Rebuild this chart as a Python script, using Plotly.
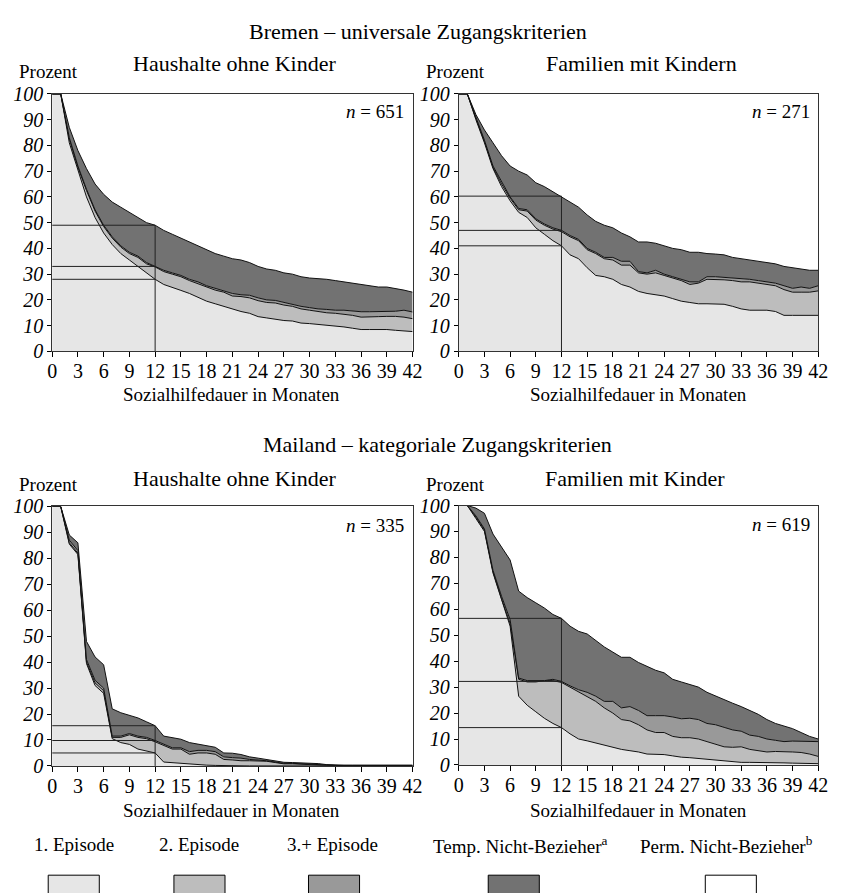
import plotly.graph_objects as go

months = list(range(43))
x_ticks = list(range(0, 43, 3))
y_ticks = list(range(0, 101, 10))

# ---------------- Bremen – Haushalte ohne Kinder (n = 651)
bre_ohne_ep1 = [100, 100, 81, 70, 60, 52, 46, 41.5, 38, 35.5, 33, 30.5, 28, 26, 25, 23.7, 22.5, 21, 19.5, 18.5, 17.5,
                16.2, 15.5, 14.8, 13.5, 13, 12.5, 12, 11.8, 11, 10.8, 10.5, 10.3, 10, 9.5, 9, 8.5, 8.5, 8.5, 8.5, 8.2, 8, 7.7]
bre_ohne_ep2 = [100, 100, 82.5, 71.5, 62.5, 54.5, 48.5, 44, 40.5, 38, 36.5, 34, 32.8, 31, 30, 29, 27.5, 26.2, 25, 23.8,
                23, 21.5, 21.3, 20.8, 19.7, 19, 18.8, 18, 17.5, 16.5, 16, 15.5, 15, 14.8, 14.5, 14, 13.3, 13.5, 13.5, 13.6,
                13.6, 13.3, 12.7]
bre_ohne_ep3 = [100, 100, 83, 72, 63, 55, 49, 44.5, 41, 38.5, 37, 34.5, 33, 31.5, 30.5, 29.5, 28, 27, 25.5, 24.5, 23.5,
                22.5, 22, 21.8, 20.8, 20, 19.8, 19, 18.5, 17.5, 17, 16.5, 16.3, 16, 16, 15.7, 15.4, 15.4, 15.4, 15.6, 15.6,
                16, 15.3]
bre_ohne_temp = [100, 100, 87, 78, 71, 65, 61, 58, 56, 54, 52, 50, 49, 47, 45.5, 44, 42.5, 41, 39.5, 38, 37, 36, 35.5,
                 34.5, 33, 32, 31.5, 30.5, 30, 29, 28.5, 28.3, 28, 27.5, 27, 26.5, 26, 25.5, 25, 25, 24.5, 23.8, 23]

# ---------------- Bremen – Familien mit Kindern (n = 271)
bre_mit_ep1 = [100, 100, 90, 81, 71, 64, 58.5, 54, 52, 48, 45.5, 43, 41, 37.5, 36, 32.5, 29.5, 29, 28, 26, 25, 23.3,
               22.5, 22, 21.5, 20.5, 19.5, 19, 18.5, 18.5, 18.5, 18.3, 17.5, 16.5, 16, 16, 16, 15.5, 14, 14, 14, 14, 14]
bre_mit_ep2 = [100, 100, 90.5, 81.5, 71.5, 65, 59.5, 55, 54.5, 51, 49, 47.5, 46.5, 44.5, 43, 39.5, 38, 36, 35.5, 33.5,
               33.5, 30.5, 30, 30.5, 29.5, 28.5, 27.5, 26, 26.5, 28, 28, 27.8, 27.5, 27, 27, 26.5, 26, 25.5, 24, 23, 23,
               23, 23.5]
bre_mit_ep3 = [100, 100, 91, 82, 72, 66, 60, 55.5, 55, 51.5, 49.5, 48, 47, 45, 43.5, 40, 38.5, 36.5, 36.5, 35, 35, 31,
               30.5, 31.5, 30, 29, 28, 27, 27, 29, 29, 28.8, 28.5, 28.2, 28, 27.5, 27, 26.5, 25.5, 24.5, 25, 24.5, 25.5]
bre_mit_temp = [100, 100, 92, 86, 81, 76, 72, 70, 68.5, 65.5, 64, 62, 60.3, 58, 56, 53, 50.5, 49, 48, 46, 44.5, 42.5,
                42.5, 42, 41, 40, 39.5, 38.5, 38.5, 38, 37.8, 37.5, 36.5, 36, 35.5, 35, 34.5, 34, 33, 32.5, 32, 31.5, 31.5]

# ---------------- Mailand – Haushalte ohne Kinder (n = 335)
mai_ohne_ep1 = [100, 100, 85.5, 81.5, 39.5, 31, 28, 10.5, 9, 8.3, 6.5, 5.8, 5, 1.5, 1.2, 1, 0.8, 0.5, 0.3, 0.2, 0.1, 0,
                0, 0, 0, 0, 0, 0, 0, 0, 0, 0, 0, 0, 0, 0, 0, 0, 0, 0, 0, 0, 0]
mai_ohne_ep2 = [100, 100, 86, 82, 40, 32, 29, 11, 11, 12, 11, 10.5, 9.3, 8, 6.5, 6.5, 4.5, 5, 5, 4.5, 2.5, 2.3, 2, 2, 2,
                1.8, 1.3, 0.8, 0.8, 0.6, 0.5, 0.4, 0.3, 0.1, 0.1, 0.1, 0.1, 0.1, 0.1, 0.1, 0.1, 0.1, 0.1]
mai_ohne_ep3 = [100, 100, 87, 83, 41, 33, 30, 11.5, 11.5, 12.5, 11.5, 11, 9.8, 8.5, 7, 7, 5.5, 6, 6, 5.5, 3.5, 3.2, 3,
                2.5, 2.3, 2, 1.5, 1, 1, 0.8, 0.6, 0.5, 0.4, 0.2, 0.2, 0.2, 0.2, 0.2, 0.2, 0.2, 0.2, 0.2, 0.2]
mai_ohne_temp = [100, 100, 89, 86, 48, 42, 39, 22, 20.5, 19.5, 18.5, 17, 15.5, 11.5, 11, 10.3, 9, 8.4, 8, 7.2, 5, 4.9,
                 4.4, 3.5, 3, 2.5, 1.9, 1.4, 1.3, 1.2, 1, 0.9, 0.5, 0.3, 0.3, 0.3, 0.3, 0.3, 0.3, 0.3, 0.3, 0.3, 0.3]

# ---------------- Mailand – Familien mit Kinder (n = 619)
mai_mit_ep1 = [100, 100, 95, 90, 74, 63.5, 53.5, 26.5, 23, 20.5, 18, 16, 14.4, 12, 10, 9.3, 8.5, 7.5, 6.8, 6, 5.5, 5,
               4.2, 4, 4, 3.5, 3, 2.8, 2.5, 2.2, 2, 1.5, 1.2, 1, 1, 1, 0.8, 0.8, 0.8, 0.7, 0.6, 0.6, 0.5]
mai_mit_ep2 = [100, 100, 95.5, 90.5, 74.5, 64, 54.5, 33, 32, 32, 32.5, 32.5, 31.8, 30, 28, 26.5, 24.5, 22, 20, 17.5,
               17, 15.5, 13.5, 12.5, 12.5, 11, 10.5, 10.5, 10, 9, 8, 7, 6.8, 7, 6, 5.5, 5, 5.2, 5.2, 5, 4.8, 4.2, 3.3]
mai_mit_ep3 = [100, 100, 96, 91, 75, 65, 56, 33.5, 32.5, 32.5, 32.5, 33, 32.2, 30.5, 29, 28, 26.5, 24.5, 24.5, 22, 22.5,
               21, 19, 19, 19, 18.5, 17.8, 18, 17.5, 16, 15.5, 14.5, 13.5, 13, 11.5, 11, 10, 9.5, 9, 9.2, 9.2, 9, 9]
mai_mit_temp = [100, 100, 99, 97, 89, 84, 79, 67, 64.5, 62.5, 60.5, 58, 56.5, 53.5, 51.5, 50.5, 48, 45.5, 43.5, 41.5,
                41.5, 39.5, 38, 36.5, 35.5, 33, 32, 31, 30, 28, 26.5, 25, 23.8, 22.5, 21, 19.5, 17.5, 16, 15, 14, 12.5,
                11, 10]

panel_n = ["651", "271", "335", "619"]
series_names = ["1. Episode", "2. Episode", "3.+ Episode", "Temp. Nicht-Bezieher<sup>a</sup>",
                "Perm. Nicht-Bezieher<sup>b</sup>"]
fill_colors = ["#e6e6e6", "#bdbdbd", "#999999", "#727272", "#ffffff"]
ref_month = 12

panels = [
    [bre_ohne_ep1, bre_ohne_ep2, bre_ohne_ep3, bre_ohne_temp],
    [bre_mit_ep1, bre_mit_ep2, bre_mit_ep3, bre_mit_temp],
    [mai_ohne_ep1, mai_ohne_ep2, mai_ohne_ep3, mai_ohne_temp],
    [mai_mit_ep1, mai_mit_ep2, mai_mit_ep3, mai_mit_temp],
]

W, H = 841, 893
FONT = "Liberation Serif"


def px(x):
    return x / W


def py(y):
    return 1 - y / H


# pixel boxes of the four plot areas (left, right, top, bottom)
boxes = [(48, 415, 85, 349), (462, 828, 85, 349), (48, 415, 508, 774), (462, 828, 507, 773)]

fig = go.Figure()

for i, layers in enumerate(panels):
    xa = "x" if i == 0 else f"x{i + 1}"
    ya = "y" if i == 0 else f"y{i + 1}"
    for j, vals in enumerate(layers):
        fig.add_trace(go.Scatter(
            x=months, y=vals, mode="lines", xaxis=xa, yaxis=ya,
            line=dict(color="#111111", width=1),
            fill="tozeroy" if j == 0 else "tonexty",
            fillcolor=fill_colors[j], showlegend=False, hoverinfo="skip"))
    # reference lines at month 12
    top = layers[3][ref_month]
    for k in (3, 2, 0):
        v = layers[k][ref_month]
        fig.add_trace(go.Scatter(x=[0, ref_month], y=[v, v], mode="lines", xaxis=xa, yaxis=ya,
                                 line=dict(color="#222222", width=1), showlegend=False, hoverinfo="skip"))
    fig.add_trace(go.Scatter(x=[ref_month, ref_month], y=[0, top], mode="lines", xaxis=xa, yaxis=ya,
                             line=dict(color="#222222", width=1), showlegend=False, hoverinfo="skip"))

layout = dict(
    width=W, height=H, margin=dict(l=0, r=0, t=0, b=0),
    paper_bgcolor="white", plot_bgcolor="white",
    font=dict(family=FONT, color="black", size=19),
    showlegend=False,
)

for i, (l, r, t, b) in enumerate(boxes):
    xk = "xaxis" if i == 0 else f"xaxis{i + 1}"
    yk = "yaxis" if i == 0 else f"yaxis{i + 1}"
    ya = "y" if i == 0 else f"y{i + 1}"
    xa = "x" if i == 0 else f"x{i + 1}"
    layout[xk] = dict(domain=[px(l), px(r)], anchor=ya, range=[0, 42], tickvals=x_ticks,
                      ticks="outside", ticklen=5, tickcolor="black", showgrid=False, zeroline=False,
                      showline=True, linecolor="#333333", linewidth=1, mirror=True,
                      ticklabelstandoff=-3,
                      tickfont=dict(family=FONT, size=20))
    layout[yk] = dict(domain=[py(b), py(t)], anchor=xa, range=[0, 100], tickvals=y_ticks,
                      ticks="outside", ticklen=4, tickcolor="black", showgrid=False, zeroline=False,
                      showline=True, linecolor="#333333", linewidth=1, mirror=True,
                      tickfont=dict(family=FONT, size=20, style="italic"))

fig.update_layout(**layout)

ann = []


def text(x, y, s, size=19, xanchor="center"):
    ann.append(dict(x=px(x), y=py(y), xref="paper", yref="paper", text=s, showarrow=False,
                    xanchor=xanchor, yanchor="middle", font=dict(family=FONT, size=size, color="black")))


text(421, 21, "Bremen – universale Zugangskriterien", 22)
text(440, 444, "Mailand – kategoriale Zugangskriterien", 22)
text(234, 54, "Haushalte ohne Kinder", 22)
text(648, 54, "Familien mit Kindern", 22)
text(234, 479, "Haushalte ohne Kinder", 22)
text(641, 479, "Familien mit Kinder", 22)
text(12, 62, "Prozent", 19, "left")
text(427, 62, "Prozent", 19, "left")
text(12, 485, "Prozent", 19, "left")
text(427, 485, "Prozent", 19, "left")
text(231, 393, "Sozialhilfedauer in Monaten", 19)
text(645, 393, "Sozialhilfedauer in Monaten", 19)
text(231, 820, "Sozialhilfedauer in Monaten", 19)
text(645, 820, "Sozialhilfedauer in Monaten", 19)
n_pos = [(408, 103), (822, 103), (408, 527), (822, 526)]
for (x, y), n in zip(n_pos, panel_n):
    text(x, y, f"<i>n</i> = {n}", 19, "right")

legend_centers = [70, 198, 335, 518, 739]
label_centers = [70, 198, 333, 525, 735]
shapes = []
for c, lc, name, col in zip(legend_centers, label_centers, series_names, fill_colors):
    text(lc, 855, name, 19)
    shapes.append(dict(type="rect", xref="paper", yref="paper", x0=px(c - 26), x1=px(c + 26),
                       y0=py(905), y1=py(886), fillcolor=col, line=dict(color="black", width=1)))

fig.update_layout(annotations=ann, shapes=shapes)
fig.write_html("out.html")
